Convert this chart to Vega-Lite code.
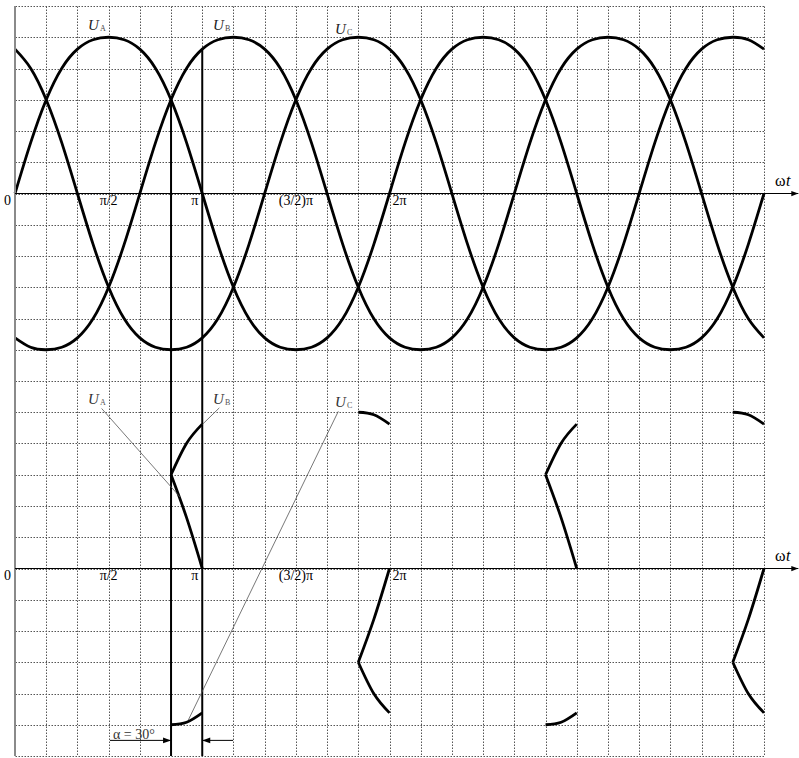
{
"$schema": "https://vega.github.io/schema/vega-lite/v6.json",
"width": 749, "height": 750,
"autosize": {"type": "none"},
"padding": {"left": 15, "top": 6, "right": 35, "bottom": 2},
"background": "white",
"config": {"view": {"stroke": null}, "font": "Liberation Serif", "text": {"font": "Liberation Serif"}},
"datasets": {
"top": [
{"s":"A","t":0,"v":0},{"s":"A","t":15,"v":1.62},{"s":"A","t":30,"v":3},{"s":"A","t":45,"v":4.01},{"s":"A","t":60,"v":4.62},{"s":"A","t":75,"v":4.92},{"s":"A","t":90,"v":5},{"s":"A","t":105,"v":4.92},{"s":"A","t":120,"v":4.62},{"s":"A","t":135,"v":4.01},{"s":"A","t":150,"v":3},{"s":"A","t":165,"v":1.62},{"s":"A","t":180,"v":0},{"s":"A","t":195,"v":-1.62},{"s":"A","t":210,"v":-3},{"s":"A","t":225,"v":-4.01},{"s":"A","t":240,"v":-4.62},{"s":"A","t":255,"v":-4.92},{"s":"A","t":270,"v":-5},{"s":"A","t":285,"v":-4.92},{"s":"A","t":300,"v":-4.62},{"s":"A","t":315,"v":-4.01},{"s":"A","t":330,"v":-3},{"s":"A","t":345,"v":-1.62},{"s":"A","t":360,"v":0},{"s":"A","t":375,"v":1.62},{"s":"A","t":390,"v":3},{"s":"A","t":405,"v":4.01},{"s":"A","t":420,"v":4.62},{"s":"A","t":435,"v":4.92},{"s":"A","t":450,"v":5},{"s":"A","t":465,"v":4.92},{"s":"A","t":480,"v":4.62},{"s":"A","t":495,"v":4.01},{"s":"A","t":510,"v":3},{"s":"A","t":525,"v":1.62},{"s":"A","t":540,"v":0},{"s":"A","t":555,"v":-1.62},{"s":"A","t":570,"v":-3},{"s":"A","t":585,"v":-4.01},{"s":"A","t":600,"v":-4.62},{"s":"A","t":615,"v":-4.92},{"s":"A","t":630,"v":-5},{"s":"A","t":645,"v":-4.92},{"s":"A","t":660,"v":-4.62},{"s":"A","t":675,"v":-4.01},{"s":"A","t":690,"v":-3},{"s":"A","t":705,"v":-1.62},{"s":"A","t":720,"v":0},
{"s":"B","t":0,"v":-4.62},{"s":"B","t":15,"v":-4.92},{"s":"B","t":30,"v":-5},{"s":"B","t":45,"v":-4.92},{"s":"B","t":60,"v":-4.62},{"s":"B","t":75,"v":-4.01},{"s":"B","t":90,"v":-3},{"s":"B","t":105,"v":-1.62},{"s":"B","t":120,"v":0},{"s":"B","t":135,"v":1.62},{"s":"B","t":150,"v":3},{"s":"B","t":165,"v":4.01},{"s":"B","t":180,"v":4.62},{"s":"B","t":195,"v":4.92},{"s":"B","t":210,"v":5},{"s":"B","t":225,"v":4.92},{"s":"B","t":240,"v":4.62},{"s":"B","t":255,"v":4.01},{"s":"B","t":270,"v":3},{"s":"B","t":285,"v":1.62},{"s":"B","t":300,"v":0},{"s":"B","t":315,"v":-1.62},{"s":"B","t":330,"v":-3},{"s":"B","t":345,"v":-4.01},{"s":"B","t":360,"v":-4.62},{"s":"B","t":375,"v":-4.92},{"s":"B","t":390,"v":-5},{"s":"B","t":405,"v":-4.92},{"s":"B","t":420,"v":-4.62},{"s":"B","t":435,"v":-4.01},{"s":"B","t":450,"v":-3},{"s":"B","t":465,"v":-1.62},{"s":"B","t":480,"v":0},{"s":"B","t":495,"v":1.62},{"s":"B","t":510,"v":3},{"s":"B","t":525,"v":4.01},{"s":"B","t":540,"v":4.62},{"s":"B","t":555,"v":4.92},{"s":"B","t":570,"v":5},{"s":"B","t":585,"v":4.92},{"s":"B","t":600,"v":4.62},{"s":"B","t":615,"v":4.01},{"s":"B","t":630,"v":3},{"s":"B","t":645,"v":1.62},{"s":"B","t":660,"v":0},{"s":"B","t":675,"v":-1.62},{"s":"B","t":690,"v":-3},{"s":"B","t":705,"v":-4.01},{"s":"B","t":720,"v":-4.62},
{"s":"C","t":0,"v":4.62},{"s":"C","t":15,"v":4.01},{"s":"C","t":30,"v":3},{"s":"C","t":45,"v":1.62},{"s":"C","t":60,"v":0},{"s":"C","t":75,"v":-1.62},{"s":"C","t":90,"v":-3},{"s":"C","t":105,"v":-4.01},{"s":"C","t":120,"v":-4.62},{"s":"C","t":135,"v":-4.92},{"s":"C","t":150,"v":-5},{"s":"C","t":165,"v":-4.92},{"s":"C","t":180,"v":-4.62},{"s":"C","t":195,"v":-4.01},{"s":"C","t":210,"v":-3},{"s":"C","t":225,"v":-1.62},{"s":"C","t":240,"v":0},{"s":"C","t":255,"v":1.62},{"s":"C","t":270,"v":3},{"s":"C","t":285,"v":4.01},{"s":"C","t":300,"v":4.62},{"s":"C","t":315,"v":4.92},{"s":"C","t":330,"v":5},{"s":"C","t":345,"v":4.92},{"s":"C","t":360,"v":4.62},{"s":"C","t":375,"v":4.01},{"s":"C","t":390,"v":3},{"s":"C","t":405,"v":1.62},{"s":"C","t":420,"v":0},{"s":"C","t":435,"v":-1.62},{"s":"C","t":450,"v":-3},{"s":"C","t":465,"v":-4.01},{"s":"C","t":480,"v":-4.62},{"s":"C","t":495,"v":-4.92},{"s":"C","t":510,"v":-5},{"s":"C","t":525,"v":-4.92},{"s":"C","t":540,"v":-4.62},{"s":"C","t":555,"v":-4.01},{"s":"C","t":570,"v":-3},{"s":"C","t":585,"v":-1.62},{"s":"C","t":600,"v":0},{"s":"C","t":615,"v":1.62},{"s":"C","t":630,"v":3},{"s":"C","t":645,"v":4.01},{"s":"C","t":660,"v":4.62},{"s":"C","t":675,"v":4.92},{"s":"C","t":690,"v":5},{"s":"C","t":705,"v":4.92},{"s":"C","t":720,"v":4.62}
],
"bot": [
{"g":"a1","t":150,"v":3},{"g":"a1","t":165,"v":1.62},{"g":"a1","t":180,"v":0},
{"g":"b1","t":150,"v":3},{"g":"b1","t":165,"v":4.01},{"g":"b1","t":180,"v":4.62},
{"g":"c1","t":150,"v":-5},{"g":"c1","t":165,"v":-4.92},{"g":"c1","t":180,"v":-4.62},
{"g":"c2","t":330,"v":5},{"g":"c2","t":345,"v":4.92},{"g":"c2","t":360,"v":4.62},
{"g":"a2","t":330,"v":-3},{"g":"a2","t":345,"v":-1.62},{"g":"a2","t":360,"v":0},
{"g":"b2","t":330,"v":-3},{"g":"b2","t":345,"v":-4.01},{"g":"b2","t":360,"v":-4.62},
{"g":"a3","t":510,"v":3},{"g":"a3","t":525,"v":1.62},{"g":"a3","t":540,"v":0},
{"g":"b3","t":510,"v":3},{"g":"b3","t":525,"v":4.01},{"g":"b3","t":540,"v":4.62},
{"g":"c3","t":510,"v":-5},{"g":"c3","t":525,"v":-4.92},{"g":"c3","t":540,"v":-4.62},
{"g":"c4","t":690,"v":5},{"g":"c4","t":705,"v":4.92},{"g":"c4","t":720,"v":4.62},
{"g":"a4","t":690,"v":-3},{"g":"a4","t":705,"v":-1.62},{"g":"a4","t":720,"v":0},
{"g":"b4","t":690,"v":-3},{"g":"b4","t":705,"v":-4.01},{"g":"b4","t":720,"v":-4.62}
],
"axisline": [{"t":0,"t2":753,"v":0}],
"arrowtip": [{"t":753,"v":0}],
"ticksC": [{"t":90,"v":0,"label":"π/2"},{"t":270,"v":0,"label":"(3/2)π"}],
"ticksR": [{"t":0,"v":0,"label":"0"},{"t":180,"v":0,"label":"π"}],
"ticksL": [{"t":360,"v":0,"label":"2π"}],
"wt": [{"t":720,"v":0}]
},
"encoding": {
"x": {"field": "t", "type": "quantitative", "scale": {"domain": [0, 720], "nice": false, "zero": false},
"axis": {"grid": true, "values": [30,60,90,120,150,180,210,240,270,300,330,360,390,420,450,480,510,540,570,600,630,660,690,720], "labels": false, "ticks": false, "domain": false, "title": null, "gridColor": "#555", "gridDash": [1.5, 1.5], "gridWidth": 1}}
},
"layer": [
{"data": {"name": "top"}, "mark": {"type": "line", "interpolate": "natural", "strokeWidth": 2.8, "color": "black"},
"encoding": {"y": {"field": "v", "type": "quantitative", "scale": {"domain": [-18, 6], "nice": false, "zero": false},
"axis": {"grid": true, "values": [-18,-17,-16,-15,-14,-13,-12,-11,-10,-9,-8,-7,-6,-5,-4,-3,-2,-1,0,1,2,3,4,5,6], "labels": false, "ticks": false, "domain": false, "title": null, "gridColor": "#555", "gridDash": [1.5, 1.5], "gridWidth": 1}},
"detail": {"field": "s"}}},
{"data": {"values": [{"t":0,"v":6,"v2":-18}]}, "mark": {"type": "rule", "color": "#8a8a8a", "strokeWidth": 2},
"encoding": {"y": {"field": "v", "type": "quantitative", "scale": {"domain": [-18, 6], "nice": false, "zero": false}, "axis": null}, "y2": {"field": "v2"}}},
{"data": {"values": [{"t":150,"v":3,"v2":-18},{"t":180,"v":4.62,"v2":-18}]}, "mark": {"type": "rule", "color": "black", "strokeWidth": 2},
"encoding": {"y": {"field": "v", "type": "quantitative", "scale": {"domain": [-18, 6], "nice": false, "zero": false}, "axis": null}, "y2": {"field": "v2"}}},
{"data": {"name": "bot"}, "mark": {"type": "line", "interpolate": "natural", "strokeWidth": 2.8, "color": "black"},
"encoding": {"y": {"field": "v", "type": "quantitative", "scale": {"domain": [-6, 18], "nice": false, "zero": false}, "axis": null}, "detail": {"field": "g"}}},
{"data": {"name": "axisline"}, "mark": {"type": "rule", "color": "black", "strokeWidth": 1.2},
"encoding": {"x2": {"field": "t2"}, "y": {"field": "v", "type": "quantitative", "scale": {"domain": [-18, 6], "nice": false, "zero": false}, "axis": null}}},
{"data": {"name": "axisline"}, "mark": {"type": "rule", "color": "black", "strokeWidth": 1.2},
"encoding": {"x2": {"field": "t2"}, "y": {"field": "v", "type": "quantitative", "scale": {"domain": [-6, 18], "nice": false, "zero": false}, "axis": null}}},
{"data": {"name": "arrowtip"}, "mark": {"type": "point", "shape": "M0,0L-2,-0.75L-2,0.75Z", "size": 49, "filled": true, "opacity": 1, "color": "black"},
"encoding": {"y": {"field": "v", "type": "quantitative", "scale": {"domain": [-18, 6], "nice": false, "zero": false}, "axis": null}}},
{"data": {"name": "arrowtip"}, "mark": {"type": "point", "shape": "M0,0L-2,-0.75L-2,0.75Z", "size": 49, "filled": true, "opacity": 1, "color": "black"},
"encoding": {"y": {"field": "v", "type": "quantitative", "scale": {"domain": [-6, 18], "nice": false, "zero": false}, "axis": null}}},
{"data": {"name": "ticksC"}, "mark": {"type": "text", "align": "center", "baseline": "alphabetic", "dy": 11, "fontSize": 14, "color": "black"},
"encoding": {"text": {"field": "label"}, "y": {"field": "v", "type": "quantitative", "scale": {"domain": [-18, 6], "nice": false, "zero": false}, "axis": null}}},
{"data": {"name": "ticksC"}, "mark": {"type": "text", "align": "center", "baseline": "alphabetic", "dy": 11, "fontSize": 14, "color": "black"},
"encoding": {"text": {"field": "label"}, "y": {"field": "v", "type": "quantitative", "scale": {"domain": [-6, 18], "nice": false, "zero": false}, "axis": null}}},
{"data": {"name": "ticksR"}, "mark": {"type": "text", "align": "right", "baseline": "alphabetic", "dx": -4, "dy": 11, "fontSize": 14, "color": "black"},
"encoding": {"text": {"field": "label"}, "y": {"field": "v", "type": "quantitative", "scale": {"domain": [-18, 6], "nice": false, "zero": false}, "axis": null}}},
{"data": {"name": "ticksR"}, "mark": {"type": "text", "align": "right", "baseline": "alphabetic", "dx": -4, "dy": 11, "fontSize": 14, "color": "black"},
"encoding": {"text": {"field": "label"}, "y": {"field": "v", "type": "quantitative", "scale": {"domain": [-6, 18], "nice": false, "zero": false}, "axis": null}}},
{"data": {"name": "ticksL"}, "mark": {"type": "text", "align": "left", "baseline": "alphabetic", "dx": 3, "dy": 11, "fontSize": 14, "color": "black"},
"encoding": {"text": {"field": "label"}, "y": {"field": "v", "type": "quantitative", "scale": {"domain": [-18, 6], "nice": false, "zero": false}, "axis": null}}},
{"data": {"name": "ticksL"}, "mark": {"type": "text", "align": "left", "baseline": "alphabetic", "dx": 3, "dy": 11, "fontSize": 14, "color": "black"},
"encoding": {"text": {"field": "label"}, "y": {"field": "v", "type": "quantitative", "scale": {"domain": [-6, 18], "nice": false, "zero": false}, "axis": null}}},
{"data": {"name": "wt"}, "mark": {"type": "text", "text": "ω", "align": "left", "baseline": "alphabetic", "dx": 11, "dy": -8, "fontSize": 16, "color": "black"},
"encoding": {"y": {"field": "v", "type": "quantitative", "scale": {"domain": [-18, 6], "nice": false, "zero": false}, "axis": null}}},
{"data": {"name": "wt"}, "mark": {"type": "text", "text": "t", "align": "left", "baseline": "alphabetic", "dx": 22, "dy": -8, "fontSize": 16, "fontStyle": "italic", "color": "black"},
"encoding": {"y": {"field": "v", "type": "quantitative", "scale": {"domain": [-18, 6], "nice": false, "zero": false}, "axis": null}}},
{"data": {"name": "wt"}, "mark": {"type": "text", "text": "ω", "align": "left", "baseline": "alphabetic", "dx": 11, "dy": -8, "fontSize": 16, "color": "black"},
"encoding": {"y": {"field": "v", "type": "quantitative", "scale": {"domain": [-6, 18], "nice": false, "zero": false}, "axis": null}}},
{"data": {"name": "wt"}, "mark": {"type": "text", "text": "t", "align": "left", "baseline": "alphabetic", "dx": 22, "dy": -8, "fontSize": 16, "fontStyle": "italic", "color": "black"},
"encoding": {"y": {"field": "v", "type": "quantitative", "scale": {"domain": [-6, 18], "nice": false, "zero": false}, "axis": null}}},
{"data": {"values": [{"t":70.2,"v":5.22,"sub":"A"},{"t":190.3,"v":5.22,"sub":"B"},{"t":307.6,"v":5.12,"sub":"C"}]},
"layer": [
{"mark": {"type": "text", "text": "U", "align": "left", "baseline": "alphabetic", "fontSize": 15, "fontStyle": "italic", "color": "#222"}},
{"mark": {"type": "text", "align": "left", "baseline": "alphabetic", "dx": 12, "dy": 1, "fontSize": 8, "color": "#444"}, "encoding": {"text": {"field": "sub"}}}
],
"encoding": {"y": {"field": "v", "type": "quantitative", "scale": {"domain": [-18, 6], "nice": false, "zero": false}, "axis": null}}},
{"data": {"values": [{"t":70.2,"v":5.25,"sub":"A"},{"t":190.3,"v":5.25,"sub":"B"},{"t":307.6,"v":5.18,"sub":"C"}]},
"layer": [
{"mark": {"type": "text", "text": "U", "align": "left", "baseline": "alphabetic", "fontSize": 15, "fontStyle": "italic", "color": "#333"}},
{"mark": {"type": "text", "align": "left", "baseline": "alphabetic", "dx": 12, "dy": 1, "fontSize": 8, "color": "#555"}, "encoding": {"text": {"field": "sub"}}}
],
"encoding": {"y": {"field": "v", "type": "quantitative", "scale": {"domain": [-6, 18], "nice": false, "zero": false}, "axis": null}}},
{"data": {"values": [{"t":83.3,"v":5.12,"t2":158.6,"v2":2.29},{"t":196.4,"v":5.14,"t2":180.4,"v2":4.62},{"t":310.8,"v":5.03,"t2":166.6,"v2":-4.85}]},
"mark": {"type": "rule", "color": "#555", "strokeWidth": 0.8},
"encoding": {"x2": {"field": "t2"}, "y": {"field": "v", "type": "quantitative", "scale": {"domain": [-6, 18], "nice": false, "zero": false}, "axis": null}, "y2": {"field": "v2"}}},
{"data": {"values": [{"t":94.2,"v":-5.47,"label":"α = 30°"}]},
"mark": {"type": "text", "align": "left", "baseline": "alphabetic", "fontSize": 14, "color": "#333"},
"encoding": {"text": {"field": "label"}, "y": {"field": "v", "type": "quantitative", "scale": {"domain": [-6, 18], "nice": false, "zero": false}, "axis": null}}},
{"data": {"values": [{"t":91.3,"t2":150,"v":-5.5},{"t":180,"t2":209.6,"v":-5.5}]},
"mark": {"type": "rule", "color": "black", "strokeWidth": 1},
"encoding": {"x2": {"field": "t2"}, "y": {"field": "v", "type": "quantitative", "scale": {"domain": [-6, 18], "nice": false, "zero": false}, "axis": null}}},
{"data": {"values": [{"t":150,"v":-5.5}]},
"mark": {"type": "point", "shape": "M0,0L-2,-0.7L-2,0.7Z", "size": 64, "filled": true, "opacity": 1, "color": "black"},
"encoding": {"y": {"field": "v", "type": "quantitative", "scale": {"domain": [-6, 18], "nice": false, "zero": false}, "axis": null}}},
{"data": {"values": [{"t":180,"v":-5.5}]},
"mark": {"type": "point", "shape": "M0,0L2,-0.7L2,0.7Z", "size": 64, "filled": true, "opacity": 1, "color": "black"},
"encoding": {"y": {"field": "v", "type": "quantitative", "scale": {"domain": [-6, 18], "nice": false, "zero": false}, "axis": null}}}
],
"resolve": {"scale": {"y": "independent"}}
}
